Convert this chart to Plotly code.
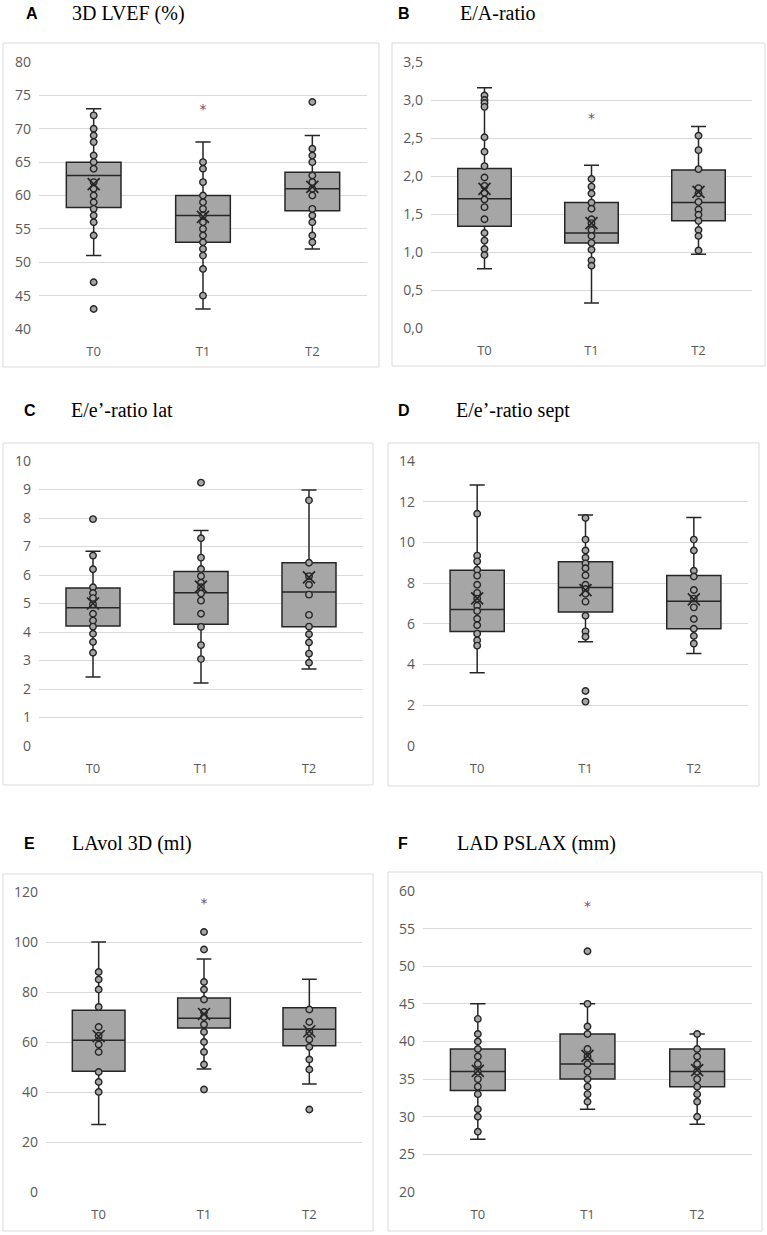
import plotly.graph_objects as go

W, H = 767, 1235
groups = ["T0", "T1", "T2"]

# ---------------- data ----------------
# A: 3D LVEF (%)
A_lo = [51, 43, 52]
A_q1 = [58.2, 53, 57.7]
A_med = [63, 57, 61]
A_q3 = [65, 60, 63.5]
A_hi = [73, 68, 69]
A_mean = [61.7, 56.8, 61.3]
A_pts0 = [72, 70, 69, 68, 66, 65, 64, 62, 61, 60, 59, 58, 57, 56, 54, 47, 43]
A_pts1 = [65, 64, 62, 60, 59, 58, 57, 56, 55, 54, 53, 52, 51, 49, 45]
A_pts2 = [74, 67, 66, 65, 63, 62, 61, 60, 58, 57, 56, 54, 53]
A_star = [None, 72.7, None]

# B: E/A-ratio
B_lo = [0.78, 0.33, 0.97]
B_q1 = [1.34, 1.12, 1.41]
B_med = [1.70, 1.25, 1.65]
B_q3 = [2.10, 1.65, 2.08]
B_hi = [3.16, 2.14, 2.65]
B_mean = [1.83, 1.38, 1.79]
B_pts0 = [3.06, 3.00, 2.96, 2.91, 2.51, 2.32, 2.13, 1.98, 1.87, 1.78, 1.69, 1.59, 1.43, 1.25, 1.15, 1.04, 0.96]
B_pts1 = [1.96, 1.86, 1.77, 1.65, 1.57, 1.43, 1.38, 1.29, 1.21, 1.12, 1.03, 0.89, 0.82]
B_pts2 = [2.53, 2.34, 2.09, 1.84, 1.77, 1.66, 1.56, 1.49, 1.41, 1.29, 1.21, 1.02]
B_star = [None, 2.74, None]

# C: E/e'-ratio lat
C_lo = [2.42, 2.21, 2.70]
C_q1 = [4.21, 4.27, 4.18]
C_med = [4.85, 5.38, 5.40]
C_q3 = [5.54, 6.12, 6.43]
C_hi = [6.83, 7.56, 8.98]
C_mean = [5.0, 5.59, 5.92]
C_pts0 = [7.96, 6.68, 6.20, 5.57, 5.37, 5.19, 4.97, 4.64, 4.40, 4.19, 3.94, 3.65, 3.27]
C_pts1 = [9.24, 7.29, 6.61, 6.21, 5.96, 5.73, 5.57, 5.35, 5.10, 4.64, 4.18, 3.54, 3.05]
C_pts2 = [8.62, 6.43, 5.96, 5.66, 5.31, 4.60, 4.19, 3.92, 3.63, 3.24, 2.92]
C_star = [None, None, None]

# D: E/e'-ratio sept
D_lo = [3.60, 5.12, 4.54]
D_q1 = [5.63, 6.58, 5.76]
D_med = [6.71, 7.79, 7.11]
D_q3 = [8.63, 9.05, 8.37]
D_hi = [12.82, 11.35, 11.23]
D_mean = [7.25, 7.66, 7.20]
D_pts0 = [11.41, 9.35, 9.07, 8.66, 8.37, 7.92, 7.52, 7.24, 6.89, 6.63, 6.25, 5.93, 5.52, 5.19, 4.93]
D_pts1 = [11.20, 10.14, 9.60, 9.25, 8.97, 8.73, 8.38, 7.92, 7.71, 7.48, 7.09, 6.40, 5.63, 5.37, 2.70, 2.18]
D_pts2 = [10.14, 9.60, 8.61, 8.33, 7.66, 7.24, 6.81, 6.24, 5.76, 5.40, 5.03]
D_star = [None, None, None]

# E: LAvol 3D (ml)
E_lo = [27, 49.2, 43.2]
E_q1 = [48.3, 65.6, 58.5]
E_med = [60.7, 69.5, 65.1]
E_q3 = [72.7, 77.6, 73.7]
E_hi = [100, 93.2, 85.1]
E_mean = [62.3, 71.2, 64.3]
E_pts0 = [88, 85, 81, 74, 66, 62.5, 59, 56, 48, 44, 40]
E_pts1 = [104, 97, 84, 81, 77, 72, 70, 67, 64, 60, 56, 51, 41]
E_pts2 = [73, 68, 64, 61, 58, 53, 49, 33]
E_star = [None, 114.9, None]

# F: LAD PSLAX (mm)
F_lo = [27, 31, 29]
F_q1 = [33.5, 35, 34]
F_med = [36, 37, 36]
F_q3 = [39, 41, 39]
F_hi = [45, 45, 41]
F_mean = [36.1, 38.1, 36.2]
F_pts0 = [43, 41, 40, 39, 38, 37, 36, 35, 34, 33, 31, 30, 28]
F_pts1 = [52, 45, 42, 41, 39, 38, 37, 36, 35, 34, 33, 32]
F_pts2 = [41, 39, 38, 37, 36, 35, 34, 33, 32, 30]
F_star = [None, 57.8, None]

letters = ["A", "B", "C", "D", "E", "F"]
titles = ["3D LVEF (%)", "E/A-ratio", "E/e\u2019-ratio lat", "E/e\u2019-ratio sept",
          "LAvol 3D (ml)", "LAD PSLAX (mm)"]
yranges = [[40, 80], [0, 3.5], [0, 10], [0, 14], [0, 120], [20, 60]]
ydticks = [5, 0.5, 1, 2, 20, 5]
yformats = ["d", ".1f", "d", "d", "d", "d"]

panels = [
    (A_lo, A_q1, A_med, A_q3, A_hi, A_mean, [A_pts0, A_pts1, A_pts2], A_star),
    (B_lo, B_q1, B_med, B_q3, B_hi, B_mean, [B_pts0, B_pts1, B_pts2], B_star),
    (C_lo, C_q1, C_med, C_q3, C_hi, C_mean, [C_pts0, C_pts1, C_pts2], C_star),
    (D_lo, D_q1, D_med, D_q3, D_hi, D_mean, [D_pts0, D_pts1, D_pts2], D_star),
    (E_lo, E_q1, E_med, E_q3, E_hi, E_mean, [E_pts0, E_pts1, E_pts2], E_star),
    (F_lo, F_q1, F_med, F_q3, F_hi, F_mean, [F_pts0, F_pts1, F_pts2], F_star),
]

# ---------------- layout geometry (pixels) ----------------
# plot areas: (x0, x1, ytop, ybottom)
areas = [(39, 367, 62, 329), (431, 752, 62, 328),
         (39, 363, 461, 746), (423, 748, 461, 746),
         (46, 362, 892, 1192), (423, 752, 891, 1192)]
frames = [(3, 379, 43, 367), (392, 765, 43, 366),
          (3, 373, 443, 785), (388, 759, 443, 786),
          (3, 373, 874, 1231), (388, 762, 872, 1231)]
letter_pos = [(32, 13), (404, 13), (30, 410), (404, 410), (29, 843), (403, 843)]
title_pos = [(70, 13), (458, 13), (69, 410), (454, 410), (70, 843), (455, 843)]

def px(x):
    return x / W

def py(y):
    return 1 - y / H

BOX_FILL = "#a6a6a6"
DARK = "#262626"
GRID = "#d9d9d9"
TICK = "#595959"

fig = go.Figure()
layout = dict(
    width=W, height=H, margin=dict(l=0, r=0, t=0, b=0, pad=0, autoexpand=False),
    paper_bgcolor="white", plot_bgcolor="white", showlegend=False,
    separators=",.", shapes=[], annotations=[],
)
xs = [0, 1, 2]
for i, (lo, q1, med, q3, hi, mean, pts, star) in enumerate(panels):
    n = "" if i == 0 else str(i + 1)
    xa, ya = "x" + n, "y" + n
    fig.add_trace(go.Box(
        x=xs, q1=q1, median=med, q3=q3, lowerfence=lo, upperfence=hi,
        width=0.5, whiskerwidth=0.28, fillcolor=BOX_FILL,
        line=dict(color=DARK, width=1.5), boxpoints=False,
        xaxis=xa, yaxis=ya, hoverinfo="skip",
    ))
    for g in range(3):
        fig.add_trace(go.Scatter(
            x=[g] * len(pts[g]), y=pts[g], mode="markers",
            marker=dict(symbol="circle", size=6.5, color=BOX_FILL,
                        line=dict(color=DARK, width=1.4)),
            xaxis=xa, yaxis=ya, hoverinfo="skip",
        ))
    fig.add_trace(go.Scatter(
        x=xs, y=mean, mode="markers",
        marker=dict(symbol="x-thin", size=12, color=DARK,
                    line=dict(color=DARK, width=1.7)),
        xaxis=xa, yaxis=ya, hoverinfo="skip",
    ))
    sx = [x for x, s in zip(xs, star) if s is not None]
    sy = [s for s in star if s is not None]
    if sx:
        fig.add_trace(go.Scatter(
            x=sx, y=sy, mode="text", text=["*"] * len(sx),
            textposition="middle center",
            textfont=dict(family="DejaVu Sans", size=14, color="#7b4a6e"),
            xaxis=xa, yaxis=ya, hoverinfo="skip",
        ))
    x0, x1, yt, yb = areas[i]
    layout["xaxis" + n] = dict(
        domain=[px(x0), px(x1)], range=[-0.5, 2.5], anchor=ya,
        tickmode="array", tickvals=xs, ticktext=groups,
        showgrid=False, zeroline=False, showline=False, ticks="",
        tickfont=dict(family="Open Sans", size=13, color=TICK),
        ticklabelstandoff=13, fixedrange=True, automargin=False,
    )
    layout["yaxis" + n] = dict(
        domain=[py(yb), py(yt)], range=yranges[i], anchor=xa,
        dtick=ydticks[i], tick0=yranges[i][0], tickformat=yformats[i],
        showgrid=True, gridcolor=GRID, gridwidth=1, zeroline=False,
        showline=False, ticks="",
        tickfont=dict(family="Open Sans", size=14, color=TICK),
        ticklabelstandoff=7, fixedrange=True, automargin=False,
    )
    fx0, fx1, fy0, fy1 = frames[i]
    layout["shapes"].append(dict(
        type="rect", xref="paper", yref="paper",
        x0=px(fx0), x1=px(fx1), y0=py(fy1), y1=py(fy0),
        line=dict(color=GRID, width=1), fillcolor="rgba(0,0,0,0)", layer="below",
    ))
    lx, ly = letter_pos[i]
    layout["annotations"].append(dict(
        text="<b>%s</b>" % letters[i], xref="paper", yref="paper",
        x=px(lx), y=py(ly), xanchor="center", yanchor="middle", showarrow=False,
        font=dict(family="Liberation Sans", size=16, color="black"),
    ))
    tx, ty = title_pos[i]
    layout["annotations"].append(dict(
        text=titles[i], xref="paper", yref="paper",
        x=px(tx), y=py(ty), xanchor="left", yanchor="middle", showarrow=False,
        font=dict(family="Liberation Serif", size=20, color="black"),
    ))

fig.update_layout(**layout)
post = ("var de=document.documentElement,b=document.body;"
        "de.style.margin='0';de.style.padding='0';de.style.overflow='hidden';"
        "de.style.height='%dpx';"
        "b.style.margin='0';b.style.padding='0';b.style.overflow='hidden';"
        "b.style.height='%dpx';"
        "var gd=document.getElementsByClassName('plotly-graph-div')[0];"
        "var p=gd.parentElement;p.style.margin='0';p.style.padding='0';"
        "p.style.fontSize='0';p.style.lineHeight='0';"
        "gd.style.position='absolute';gd.style.left='0';gd.style.top='0';") % (H, H)
fig.write_html("out.html", post_script=post, config={"displayModeBar": False})
